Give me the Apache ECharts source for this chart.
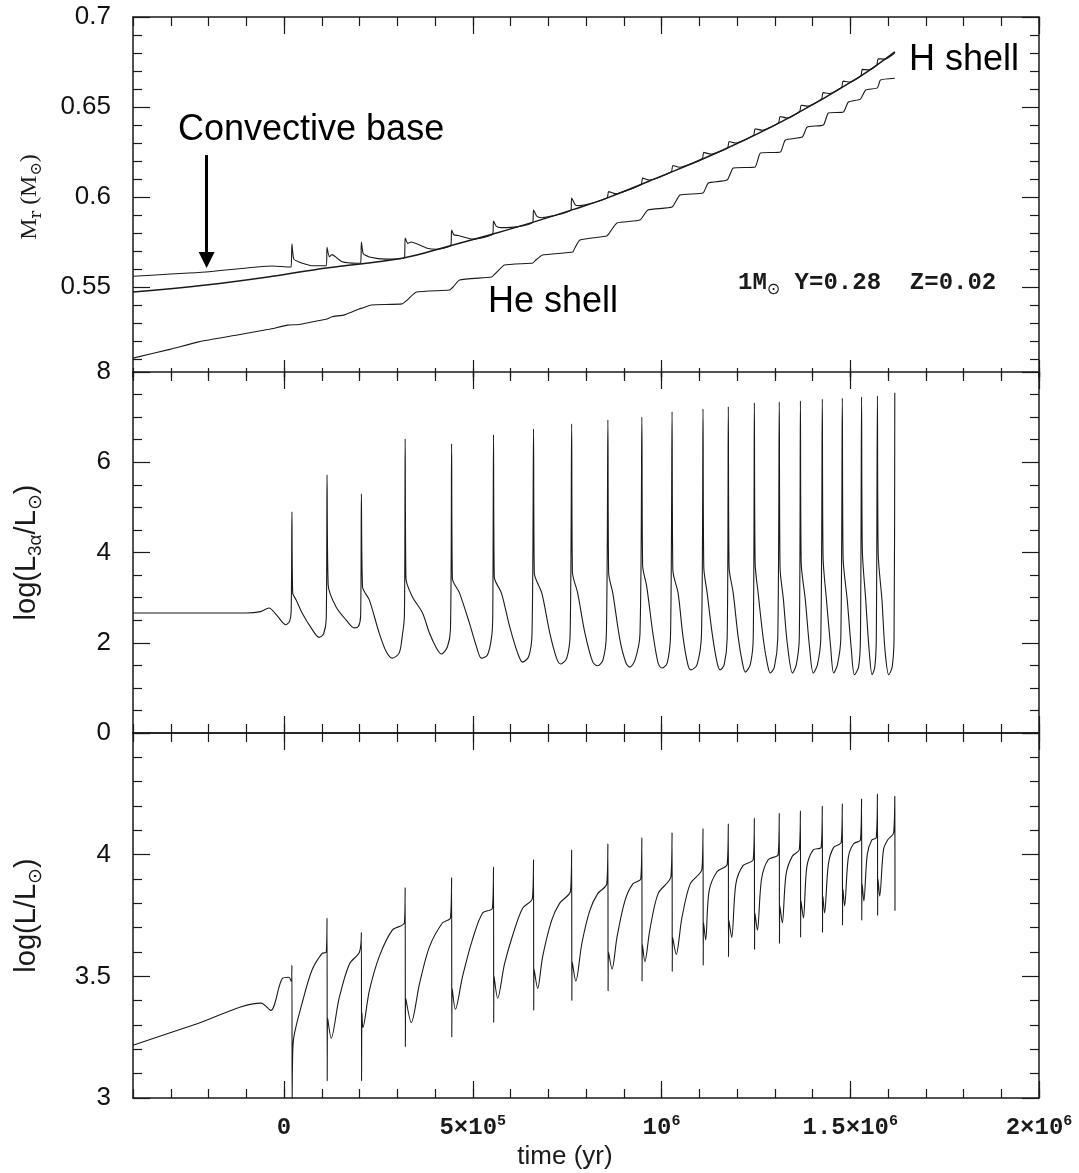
<!DOCTYPE html>
<html>
<head>
<meta charset="utf-8">
<title>Thermal pulses 1 Msun</title>
<script src="https://cdn.jsdelivr.net/npm/echarts@6/dist/echarts.min.js"></script>
<style>
  html, body { margin: 0; padding: 0; background: #fff; }
  #chart { width: 1079px; height: 1173px; }
</style>
</head>
<body>
<div id="chart"></div>
<script>
// time axis is in units of 1e5 yr
const X_MIN = -4;
const X_MAX = 20;
const xMajorTicks = [0, 5, 10, 15, 20];
const xMajorLabels = ['{n|0}', '{n|5×10}{s|5}', '{n|10}{s|6}', '{n|1.5×10}{s|6}', '{n|2×10}{s|6}'];

// top panel: Mr (Msun)
const heShell = [
  [-4.0, 0.5105], [-3.0, 0.5155], [-2.26, 0.5195], [-1.2, 0.5235], [-0.4, 0.5265], [0.1, 0.5288],
  [0.4, 0.5292], [1.0, 0.5317], [1.14, 0.5322], [1.27, 0.5335], [1.6, 0.5345], [1.99, 0.5378],
  [2.1, 0.5385], [2.31, 0.54], [3.13, 0.5406], [3.25, 0.5425], [3.51, 0.5472], [4.38, 0.5483],
  [4.48, 0.55], [4.65, 0.5539], [5.5, 0.5556], [5.6, 0.5575], [5.84, 0.5622], [6.59, 0.5633],
  [6.66, 0.5648], [6.85, 0.5678], [7.65, 0.5694], [7.7, 0.5715], [7.84, 0.5761], [8.55, 0.5783],
  [8.62, 0.58], [8.82, 0.5856], [9.43, 0.5872], [9.64, 0.5928], [10.28, 0.5944], [10.49, 0.6011],
  [11.1, 0.6022], [11.24, 0.6078], [11.74, 0.6094], [11.9, 0.6161], [12.48, 0.6167], [12.62, 0.6244],
  [13.15, 0.625], [13.28, 0.6317], [13.73, 0.6333], [13.86, 0.6389], [14.29, 0.64], [14.42, 0.6467],
  [14.82, 0.6472], [14.95, 0.6528], [15.27, 0.6544], [15.41, 0.6594], [15.72, 0.6606], [15.8, 0.665],
  [16.18, 0.666]
];
const hShell = [
  [-4.0, 0.5472], [-2.07, 0.5511], [-0.35, 0.5558], [1.12, 0.5606], [3.13, 0.566], [4.38, 0.5728],
  [5.63, 0.58], [6.69, 0.5866], [7.65, 0.593], [8.55, 0.5994], [9.88, 0.6106], [11.63, 0.6261],
  [13.41, 0.6444], [15.19, 0.666], [16.18, 0.6806]
];
const convBase = [
  [-4.0, 0.556], [-2.07, 0.5583], [-0.3, 0.5617], [0.15, 0.5611], [0.19, 0.5611],
  [0.21, 0.574], [0.26, 0.5655], [0.4, 0.5639], [0.6, 0.5625], [0.75, 0.5618], [1.12, 0.5618],
  [1.14, 0.572], [1.2, 0.5668], [1.27, 0.568], [1.54, 0.564], [1.94, 0.5632], [2.03, 0.5633],
  [2.05, 0.575], [2.1, 0.5685], [2.26, 0.5667], [2.7, 0.5655], [3.19, 0.5662],
  [3.21, 0.5772], [3.28, 0.5742], [3.37, 0.575], [3.77, 0.5717], [4.04, 0.571], [4.42, 0.5731],
  [4.44, 0.5817], [4.5, 0.579], [4.62, 0.5786], [5.0, 0.5766], [5.53, 0.5795],
  [5.55, 0.5867], [5.62, 0.5838], [5.75, 0.583], [6.16, 0.5834], [6.59, 0.586],
  [6.61, 0.5928], [6.7, 0.5892], [6.82, 0.5885], [7.12, 0.5895], [7.6, 0.5927],
  [7.62, 0.5994], [7.72, 0.5955], [7.84, 0.5952], [8.1, 0.5962], [8.56, 0.5995],
  [8.6, 0.603], [8.78, 0.6019], [9.46, 0.607],
  [9.5, 0.6105], [9.68, 0.6094], [10.26, 0.614],
  [10.3, 0.6175], [10.48, 0.6165], [11.08, 0.6213],
  [11.12, 0.6248], [11.3, 0.6238], [11.75, 0.6273],
  [11.79, 0.6308], [11.97, 0.6300], [12.44, 0.6344],
  [12.48, 0.6379], [12.66, 0.6371], [13.1, 0.6412],
  [13.14, 0.6447], [13.32, 0.6439], [13.66, 0.6475],
  [13.7, 0.651], [13.88, 0.6505], [14.24, 0.6545],
  [14.28, 0.658], [14.46, 0.6575], [14.77, 0.6609],
  [14.81, 0.6644], [14.99, 0.6639], [15.28, 0.6673],
  [15.32, 0.6709], [15.5, 0.6706], [15.7, 0.6732],
  [15.74, 0.6768], [15.92, 0.6766], [16.16, 0.6797], [16.18, 0.6806]
];

// middle panel: log(L3a/Lsun)
const heBurn = [
  [-4.0, 2.66], [-1.0, 2.66], [-0.62, 2.69], [-0.4, 2.77], [-0.2, 2.62], [0.05, 2.4], [0.15, 2.48], [0.19, 2.7],
  [0.21, 4.9], [0.23, 3.1], [0.32, 2.95], [0.48, 2.66], [0.72, 2.33], [0.93, 2.12], [1.05, 2.2], [1.12, 2.55],
  [1.14, 5.72], [1.17, 3.28], [1.38, 2.79], [1.65, 2.5], [1.86, 2.33], [1.97, 2.36], [2.03, 2.6],
  [2.05, 5.3], [2.08, 3.24], [2.26, 2.95], [2.52, 2.22], [2.71, 1.8], [2.87, 1.66], [3.05, 1.77], [3.13, 2.13], [3.19, 2.6],
  [3.21, 6.52], [3.23, 3.43], [3.4, 3.02], [3.67, 2.66], [3.85, 2.22], [4.04, 1.88], [4.17, 1.75], [4.33, 1.91], [4.41, 2.3],
  [4.44, 6.41], [4.46, 3.43], [4.65, 3.1], [4.91, 2.44], [5.1, 1.91], [5.23, 1.66], [5.39, 1.73], [5.5, 2.13], [5.53, 2.6],
  [5.55, 6.61], [5.57, 3.46], [5.76, 3.1], [5.98, 2.35], [6.19, 1.77], [6.32, 1.57], [6.48, 1.69], [6.57, 2.2],
  [6.61, 6.74], [6.63, 3.55], [6.83, 3.1], [7.04, 2.22], [7.22, 1.66], [7.33, 1.53], [7.49, 1.66], [7.58, 2.2],
  [7.62, 6.85], [7.64, 3.57], [7.78, 3.1], [7.97, 2.22], [8.18, 1.57], [8.31, 1.49], [8.45, 1.62], [8.54, 2.2],
  [8.58, 6.94], [8.6, 3.55], [8.71, 3.1], [8.9, 2.06], [9.06, 1.55], [9.16, 1.46], [9.3, 1.62], [9.43, 2.2],
  [9.48, 7.0], [9.5, 3.72], [9.61, 3.24], [9.77, 2.22], [9.91, 1.55], [10.01, 1.44], [10.15, 1.55], [10.24, 2.2],
  [10.28, 7.12], [10.3, 3.61], [10.44, 3.1], [10.57, 2.13], [10.7, 1.51], [10.78, 1.4], [10.94, 1.51], [11.06, 2.2],
  [11.1, 7.18], [11.12, 3.68], [11.21, 3.1], [11.34, 2.22], [11.47, 1.57], [11.55, 1.4], [11.66, 1.51], [11.74, 2.1],
  [11.77, 7.23], [11.79, 3.68], [11.9, 3.1], [12.03, 2.13], [12.14, 1.57], [12.22, 1.35], [12.35, 1.51], [12.43, 2.1],
  [12.46, 7.32], [12.48, 3.77], [12.56, 3.1], [12.7, 2.06], [12.8, 1.55], [12.88, 1.33], [12.99, 1.46], [13.08, 2.1],
  [13.12, 7.34], [13.14, 3.68], [13.23, 2.95], [13.33, 2.0], [13.47, 1.33], [13.57, 1.51], [13.65, 2.1],
  [13.68, 7.36], [13.7, 3.79], [13.81, 2.95], [13.92, 1.91], [14.02, 1.33], [14.13, 1.51], [14.22, 2.1],
  [14.26, 7.4], [14.28, 3.9], [14.37, 2.95], [14.48, 1.91], [14.56, 1.33], [14.66, 1.51], [14.75, 2.1],
  [14.79, 7.42], [14.81, 3.9], [14.92, 2.95], [15.03, 1.84], [15.11, 1.29], [15.22, 1.46], [15.27, 2.1],
  [15.3, 7.45], [15.32, 4.06], [15.41, 2.95], [15.5, 1.84], [15.58, 1.29], [15.65, 1.46], [15.69, 2.1],
  [15.72, 7.47], [15.74, 3.99], [15.84, 2.95], [15.92, 1.84], [16.02, 1.29], [16.11, 1.46], [16.16, 2.1],
  [16.18, 7.54]
];

// bottom panel: log(L/Lsun)
const lumTotal = [
  [-4.0, 3.217], [-2.3, 3.305], [-0.61, 3.39], [-0.35, 3.36], [-0.05, 3.49], [0.13, 3.496], [0.19, 3.48],
  [0.21, 3.545], [0.215, 2.95], [0.225, 3.14], [0.26, 3.25], [0.48, 3.39], [0.74, 3.525], [1.01, 3.594], [1.12, 3.6],
  [1.14, 3.74], [1.145, 3.07], [1.155, 3.33], [1.25, 3.246], [1.46, 3.41], [1.73, 3.55], [2.0, 3.6],
  [2.05, 3.68], [2.055, 3.07], [2.065, 3.35], [2.09, 3.29], [2.26, 3.44], [2.52, 3.58], [2.87, 3.69], [3.19, 3.72],
  [3.21, 3.865], [3.215, 3.21], [3.225, 3.41], [3.37, 3.31], [3.59, 3.47], [3.85, 3.62], [4.2, 3.72], [4.41, 3.74],
  [4.44, 3.906], [4.445, 3.25], [4.455, 3.45], [4.54, 3.365], [4.73, 3.5], [4.99, 3.65], [5.26, 3.76], [5.52, 3.78],
  [5.55, 3.95], [5.555, 3.31], [5.565, 3.5], [5.66, 3.41], [5.84, 3.55], [6.06, 3.67], [6.32, 3.78], [6.58, 3.82],
  [6.61, 3.98], [6.615, 3.36], [6.625, 3.53], [6.72, 3.45], [6.85, 3.58], [7.09, 3.73], [7.3, 3.8], [7.59, 3.85],
  [7.62, 4.02], [7.625, 3.4], [7.635, 3.56], [7.73, 3.48], [7.89, 3.635], [8.1, 3.77], [8.31, 3.84], [8.55, 3.88],
  [8.58, 4.045], [8.585, 3.44], [8.595, 3.6], [8.69, 3.53], [8.82, 3.66], [9.03, 3.81], [9.24, 3.88], [9.45, 3.9],
  [9.48, 4.07], [9.485, 3.48], [9.495, 3.63], [9.56, 3.56], [9.69, 3.69], [9.91, 3.84], [10.25, 3.91],
  [10.28, 4.09], [10.285, 3.52], [10.295, 3.66], [10.39, 3.59], [10.54, 3.74], [10.76, 3.88], [11.07, 3.94],
  [11.1, 4.107], [11.105, 3.545], [11.115, 3.72], [11.17, 3.65], [11.26, 3.85], [11.47, 3.93], [11.74, 3.96],
  [11.77, 4.127], [11.775, 3.58], [11.785, 3.73], [11.86, 3.66], [11.97, 3.88], [12.16, 3.955], [12.43, 3.98],
  [12.46, 4.15], [12.465, 3.61], [12.475, 3.76], [12.54, 3.69], [12.65, 3.9], [12.83, 3.98], [13.09, 4.0],
  [13.12, 4.17], [13.125, 3.635], [13.135, 3.79], [13.2, 3.72], [13.3, 3.92], [13.47, 3.995], [13.65, 4.02],
  [13.68, 4.18], [13.685, 3.66], [13.695, 3.81], [13.76, 3.74], [13.85, 3.95], [14.02, 4.02], [14.23, 4.03],
  [14.26, 4.2], [14.265, 3.68], [14.275, 3.83], [14.32, 3.76], [14.42, 3.96], [14.56, 4.03], [14.76, 4.05],
  [14.79, 4.21], [14.795, 3.71], [14.805, 3.86], [14.85, 3.79], [14.95, 3.99], [15.09, 4.045], [15.27, 4.06],
  [15.3, 4.23], [15.305, 3.73], [15.315, 3.88], [15.36, 3.81], [15.45, 4.0], [15.57, 4.06], [15.69, 4.07],
  [15.72, 4.25], [15.725, 3.75], [15.735, 3.9], [15.78, 3.83], [15.88, 4.02], [15.99, 4.06], [16.15, 4.09],
  [16.18, 4.24], [16.185, 3.77]
];

// arrow pointing at the convective base: [time, from, to]
const arrowAt = [-2.05, 0.6233, 0.565];

const INK = '#1a1a1a';
const tickLine = { color: INK, width: 1.2 };
const frameLine = { color: INK, width: 1.5 };

const chart = echarts.init(document.getElementById('chart'));

function frameXAxes(grid, showBottomLine, withLabels) {
  const base = {
    type: 'value', gridIndex: grid, min: X_MIN, max: X_MAX,
    splitLine: { show: false }
  };
  const minor = (pos, lineOn) => Object.assign({}, base, {
    position: pos, interval: 1,
    axisLine: { show: lineOn, onZero: false, lineStyle: frameLine },
    axisTick: { show: true, inside: true, length: 9, lineStyle: tickLine },
    axisLabel: { show: false }
  });
  const major = (pos, labels) => Object.assign({}, base, {
    position: pos,
    axisLine: { show: false, onZero: false },
    axisTick: { show: true, inside: true, length: 17, customValues: xMajorTicks, lineStyle: tickLine },
    axisLabel: labels ? {
      show: true, customValues: xMajorTicks, margin: 16,
      formatter: v => xMajorLabels[xMajorTicks.indexOf(Math.round(v))],
      rich: {
        n: { fontSize: 24, fontFamily: 'Liberation Mono', fontWeight: 'bold', color: INK, lineHeight: 28 },
        s: { fontSize: 15, fontFamily: 'Liberation Mono', fontWeight: 'bold', color: INK, verticalAlign: 'top' }
      }
    } : { show: false },
    name: labels ? 'time (yr)' : '',
    nameLocation: 'middle', nameGap: 46,
    nameTextStyle: { fontSize: 26, fontFamily: 'Liberation Sans', color: INK, padding: [0, 42, 0, 0] }
  });
  return [minor('bottom', showBottomLine), major('bottom', withLabels), minor('top', true), major('top', false)];
}

function frameYAxes(grid, cfg) {
  const common = {
    type: 'value', gridIndex: grid, min: cfg.min, max: cfg.max, interval: cfg.interval,
    splitLine: { show: false },
    axisLine: { show: true, onZero: false, lineStyle: frameLine },
    axisTick: cfg.ticks
      ? { show: true, inside: true, length: 17, lineStyle: tickLine, customValues: cfg.ticks }
      : { show: true, inside: true, length: 17, lineStyle: tickLine },
    minorTick: { show: true, splitNumber: cfg.minorSplit, length: 9, lineStyle: tickLine }
  };
  return [
    Object.assign({}, common, {
      position: 'left',
      name: cfg.name, nameLocation: 'middle', nameGap: 88, nameRotate: 90,
      nameTextStyle: { rich: cfg.rich },
      axisLabel: {
        show: true, margin: 22, fontSize: 26, fontFamily: 'Liberation Sans', color: '#111',
        showMinLabel: cfg.showMin, showMaxLabel: cfg.showMax
      }
    }),
    Object.assign({}, common, { position: 'right', axisLabel: { show: false } })
  ];
}

const serifRich = {
  m: { fontSize: 24, fontFamily: 'Liberation Serif', color: INK, lineHeight: 30 },
  s: { fontSize: 16, fontFamily: 'DejaVu Serif', color: INK, verticalAlign: 'bottom' }
};
const sansRich = {
  m: { fontSize: 29, fontFamily: 'Liberation Sans', color: INK, lineHeight: 36 },
  s: { fontSize: 19, fontFamily: 'Liberation Sans', color: INK, verticalAlign: 'bottom' }
};

const grids = [
  { left: 133, right: 40, top: 17, height: 360, outerBoundsMode: 'none' },
  { left: 133, right: 40, top: 372, height: 361, outerBoundsMode: 'none' },
  { left: 133, right: 40, top: 733, height: 365, outerBoundsMode: 'none' }
];

const xAxes = [].concat(
  frameXAxes(0, false, false),
  frameXAxes(1, true, false),
  frameXAxes(2, true, true)
);

const yAxes = [].concat(
  frameYAxes(0, {
    min: 0.5, max: 0.7, interval: 0.05, minorSplit: 5, ticks: [0.55, 0.6, 0.65, 0.7],
    showMin: false, showMax: true, name: '{m|M}{s|r}{m| (M}{s|⊙}{m|)}', rich: serifRich
  }),
  frameYAxes(1, {
    min: 0, max: 8, interval: 2, minorSplit: 4,
    showMin: true, showMax: true, name: '{m|log(L}{s|3α}{m|/L}{s|⊙}{m|)}', rich: sansRich
  }),
  frameYAxes(2, {
    min: 3, max: 4.5, interval: 0.5, minorSplit: 5,
    showMin: true, showMax: false, name: '{m|log(L/L}{s|⊙}{m|)}', rich: sansRich
  })
);

function curve(name, data, xi, yi, width, smooth) {
  return {
    name: name, type: 'line', data: data, xAxisIndex: xi, yAxisIndex: yi,
    showSymbol: false, symbol: 'none', smooth: smooth, silent: true,
    lineStyle: { color: INK, width: width }
  };
}

const convSeries = curve('Convective base', convBase, 0, 0, 1.1, 0.2);
convSeries.markLine = {
  silent: true, symbol: ['none', 'triangle'], symbolSize: 16,
  lineStyle: { color: '#000', width: 3, type: 'solid' },
  label: { show: false },
  data: [[{ coord: [arrowAt[0], arrowAt[1]] }, { coord: [arrowAt[0], arrowAt[2]] }]]
};

const annotationFont = { fontSize: 36, fontFamily: 'Liberation Sans', fill: '#000', textAlign: 'left', textVerticalAlign: 'middle', align: 'left', verticalAlign: 'middle' };

chart.setOption({
  animation: false,
  backgroundColor: '#fff',
  grid: grids,
  xAxis: xAxes,
  yAxis: yAxes,
  series: [
    curve('He shell', heShell, 0, 0, 1.1, 0.15),
    curve('H shell', hShell, 0, 0, 1.5, 0.4),
    convSeries,
    curve('log L3a', heBurn, 4, 2, 1.1, 0.3),
    curve('log L', lumTotal, 8, 4, 1.1, 0.3)
  ],
  graphic: [
    { type: 'text', x: 178, y: 130, style: Object.assign({ text: 'Convective base' }, annotationFont) },
    { type: 'text', x: 909, y: 60, style: Object.assign({ text: 'H shell' }, annotationFont) },
    { type: 'text', x: 488, y: 302, style: Object.assign({ text: 'He shell' }, annotationFont) },
    {
      type: 'text', x: 738, y: 283,
      style: {
        text: '{a|1M}{s|⊙}{a| Y=0.28  Z=0.02}',
        textAlign: 'left', textVerticalAlign: 'middle', align: 'left', verticalAlign: 'middle',
        rich: {
          a: { fontSize: 24, fontFamily: 'Liberation Mono', fontWeight: 'bold', fill: INK, lineHeight: 30 },
          s: { fontSize: 16, fontFamily: 'DejaVu Sans', fill: INK, verticalAlign: 'bottom' }
        }
      }
    }
  ]
});
</script>
</body>
</html>
